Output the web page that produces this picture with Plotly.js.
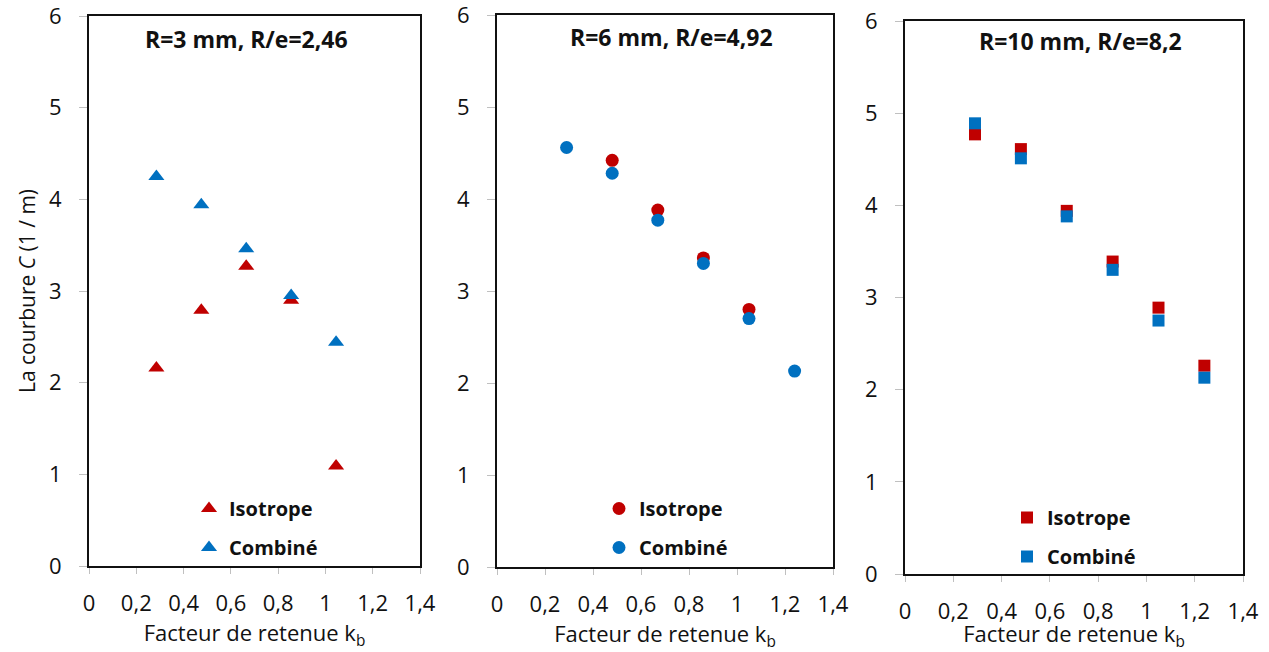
<!DOCTYPE html>
<html>
<head>
<meta charset="utf-8">
<script src="https://cdn.plot.ly/plotly-3.0.1.min.js"></script>
<style>html,body{margin:0;padding:0;background:#fff;} #chart{width:1269px;height:652px;}</style>
</head>
<body>
<div id="chart"></div>
<script>
// Panel titles
const panelTitles = ["R=3 mm, R/e=2,46", "R=6 mm, R/e=4,92", "R=10 mm, R/e=8,2"];
const seriesNames = ["Isotrope", "Combiné"];

// Panel 1 (triangles)
const p1IsoX = [0.285, 0.475, 0.665, 0.855, 1.045];
const p1IsoY = [2.16, 2.79, 3.27, 2.90, 1.09];
const p1ComX = [0.285, 0.475, 0.665, 0.855, 1.045];
const p1ComY = [4.25, 3.94, 3.46, 2.95, 2.44];

// Panel 2 (circles)
const p2IsoX = [0.48, 0.67, 0.86, 1.05];
const p2IsoY = [4.42, 3.88, 3.36, 2.80];
const p2ComX = [0.29, 0.48, 0.67, 0.86, 1.05, 1.24];
const p2ComY = [4.56, 4.28, 3.77, 3.30, 2.70, 2.13];

// Panel 3 (squares)
const p3IsoX = [0.29, 0.48, 0.67, 0.86, 1.05, 1.24];
const p3IsoY = [4.77, 4.61, 3.94, 3.39, 2.89, 2.26];
const p3ComX = [0.29, 0.48, 0.67, 0.86, 1.05, 1.24];
const p3ComY = [4.89, 4.51, 3.88, 3.30, 2.75, 2.13];

const xTitle = "Facteur de retenue k<sub>b</sub>";
const yTitle = "La courbure <i>C</i> (1 / m)";

const RED = "#C00000", BLUE = "#0070C0";
const FONT = "Open Sans, Liberation Sans, sans-serif";

function tr(x, y, name, color, symbol, size, xa, ya, leg) {
  return {x: x, y: y, name: name, type: "scatter", mode: "markers",
    marker: {color: color, symbol: symbol, size: size},
    xaxis: xa, yaxis: ya, legend: leg, legendgroup: name + leg, showlegend: true};
}

const data = [
  tr(p1IsoX, p1IsoY, seriesNames[0], RED, "triangle-up", 14, "x", "y", "legend"),
  tr(p1ComX, p1ComY, seriesNames[1], BLUE, "triangle-up", 14, "x", "y", "legend"),
  tr(p2IsoX, p2IsoY, seriesNames[0], RED, "circle", 13, "x2", "y2", "legend2"),
  tr(p2ComX, p2ComY, seriesNames[1], BLUE, "circle", 13, "x2", "y2", "legend2"),
  tr(p3IsoX, p3IsoY, seriesNames[0], RED, "square", 12, "x3", "y3", "legend3"),
  tr(p3ComX, p3ComY, seriesNames[1], BLUE, "square", 12, "x3", "y3", "legend3")
];

const W = 1269, H = 652;
function xd(a, b) { return [a / W, b / W]; }
function yd(top, bottom) { return [(H - bottom) / H, (H - top) / H]; }

function xax(dom, anchor, standoff) {
  return {domain: dom, anchor: anchor, range: [0, 1.4], dtick: 0.2, tick0: 0,
    showgrid: false, zeroline: false, showline: true, mirror: true,
    linecolor: "#111", linewidth: 2, ticks: "outside", ticklen: 6, tickcolor: "#c0c0c0",
    tickwidth: 1, ticklabelstandoff: 11, ticklabeloverflow: "allow",
    tickfont: {family: FONT, size: 22, color: "#111"},
    title: {text: xTitle, font: {family: FONT, size: 22, color: "#111"}, standoff: standoff}};
}
function yax(dom, anchor, withTitle) {
  const o = {domain: dom, anchor: anchor, range: [0, 6], dtick: 1, tick0: 0,
    showgrid: false, zeroline: false, showline: true, mirror: true,
    linecolor: "#111", linewidth: 2, ticks: "outside", ticklen: 8, tickcolor: "#c0c0c0",
    tickwidth: 1, ticklabelstandoff: 13, ticklabeloverflow: "allow",
    tickfont: {family: FONT, size: 22, color: "#111"}};
  if (withTitle) o.title = {text: yTitle, font: {family: FONT, size: 21, color: "#111"}, standoff: 8};
  return o;
}
function leg(xpx, ytop) {
  return {x: xpx / W, y: (H - ytop) / H, xanchor: "left", yanchor: "top",
    bgcolor: "rgba(0,0,0,0)", tracegroupgap: 10,
    font: {family: FONT, size: 20, color: "#111", weight: "bold"}};
}
function ttl(text, xc, yc) {
  return {text: "<b>" + text + "</b>", x: xc / W, y: (H - yc) / H, xref: "paper", yref: "paper",
    showarrow: false, xanchor: "center", yanchor: "middle",
    font: {family: FONT, size: 23, color: "#111"}};
}

const layout = {
  width: W, height: H, margin: {l: 0, r: 0, t: 0, b: 0},
  paper_bgcolor: "#fff", plot_bgcolor: "#fff", separators: ", ",
  showlegend: true,
  xaxis: xax(xd(89, 420), "y", 8),
  yaxis: yax(yd(16, 566), "x", true),
  xaxis2: xax(xd(497, 833), "y2", 8),
  yaxis2: yax(yd(15, 567), "x2", false),
  xaxis3: xax(xd(905, 1243), "y3", 14),
  yaxis3: yax(yd(21, 574), "x3", false),
  legend: leg(189, 489),
  legend2: leg(599, 489),
  legend3: leg(1007, 498),
  annotations: [
    ttl(panelTitles[0], 246, 39),
    ttl(panelTitles[1], 671, 37),
    ttl(panelTitles[2], 1080, 41)
  ]
};

Plotly.newPlot("chart", data, layout, {displayModeBar: false, staticPlot: true});
</script>
</body>
</html>
